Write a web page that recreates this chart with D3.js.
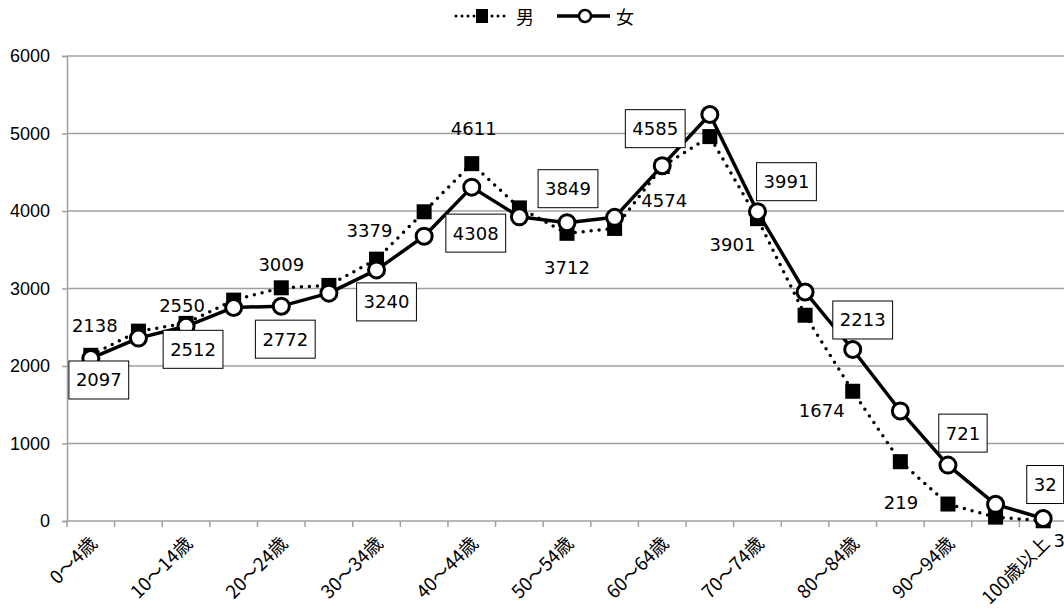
<!DOCTYPE html>
<html>
<head>
<meta charset="utf-8">
<script src="https://cdn.jsdelivr.net/npm/d3@7"></script>
<style>
  html, body { margin: 0; padding: 0; background: #fff; }
  svg { display: block; }
</style>
</head>
<body>
<div id="chart"></div>
<script>
// ---- data ----
const categories = ["0～4歳","5～9歳","10～14歳","15～19歳","20～24歳","25～29歳","30～34歳","35～39歳","40～44歳","45～49歳","50～54歳","55～59歳","60～64歳","65～69歳","70～74歳","75～79歳","80～84歳","85～89歳","90～94歳","95～99歳","100歳以上"];
const male   = [2138, 2450, 2550, 2850, 3009, 3040, 3379, 3990, 4611, 4040, 3712, 3775, 4574, 4960, 3901, 2655, 1674, 765, 219, 50, 3];
const female = [2097, 2360, 2512, 2755, 2772, 2940, 3240, 3675, 4308, 3925, 3849, 3918, 4585, 5245, 3991, 2955, 2213, 1420, 721, 215, 32];
const yTicks = [0, 1000, 2000, 3000, 4000, 5000, 6000];
const seriesNames = ["男", "女"];

// ---- layout (label offsets relative to each point, for labelled categories) ----
const maleLabelOffsets = {0:[4,-30],2:[-4,-18],4:[0,-23],6:[-7,-29],8:[2,-35],10:[0,34],12:[2,34],14:[-25,26],16:[-31,19],18:[-47,-2],20:[16,20]};
const femaleLabelOffsets = {0:[8,21.5],2:[7,23],4:[4,33],6:[10,32],8:[4,46],10:[1,-34],12:[-7,-37],14:[29,-30],16:[10,-29.5],18:[15,-32],20:[2,-34]};

const W = 1064, H = 614;
const mLeft = 67, mRight = 1067, mTop = 56, mBottom = 521;

const svg = d3.select("#chart").append("svg").attr("width", W).attr("height", H);

const x = d3.scaleBand().domain(categories).range([mLeft, mRight]).padding(0);
const y = d3.scaleLinear().domain([0, 6000]).range([mBottom, mTop]);
const cx = d => x(d) + x.bandwidth() / 2;

// gridlines
svg.append("g").selectAll("line").data(yTicks.filter(t => t > 0)).join("line")
  .attr("x1", mLeft).attr("x2", W).attr("y1", d => y(d)).attr("y2", d => y(d))
  .attr("stroke", "#a0a0a0").attr("stroke-width", 1.5);

// y axis
const yAxis = svg.append("g").attr("transform", `translate(${mLeft},0)`)
  .call(d3.axisLeft(y).tickValues(yTicks).tickSize(5).tickPadding(12).tickFormat(d3.format("d")));
yAxis.select(".domain").attr("stroke", "#a0a0a0").attr("stroke-width", 1.5);
yAxis.selectAll(".tick line").attr("stroke", "#a0a0a0").attr("stroke-width", 1.5);
yAxis.selectAll("text").attr("font-family", "'Liberation Sans', Arial, sans-serif").attr("font-size", 18).attr("fill", "#000");

// x axis line and ticks at category boundaries
svg.append("line").attr("x1", mLeft).attr("x2", W).attr("y1", mBottom).attr("y2", mBottom)
  .attr("stroke", "#a0a0a0").attr("stroke-width", 1.5);
const bounds = categories.map(c => x(c)).concat([x(categories[categories.length-1]) + x.bandwidth()]);
svg.append("g").selectAll("line").data(bounds).join("line")
  .attr("x1", d => d).attr("x2", d => d).attr("y1", mBottom).attr("y2", mBottom + 6)
  .attr("stroke", "#a0a0a0").attr("stroke-width", 1.5);

// x labels (every other category)
svg.append("g").selectAll("text").data(categories.filter((c, i) => i % 2 === 0)).join("text")
  .attr("transform", d => `translate(${cx(d) + 3},${mBottom + 19}) rotate(-45)`)
  .attr("text-anchor", "end").attr("dy", "0.35em")
  .attr("font-family", "'Noto Sans CJK JP', sans-serif").attr("font-size", 18.5).attr("fill", "#000")
  .text(d => d);

// series lines
const line = vals => d3.line().x((d, i) => cx(categories[i])).y(d => y(d))(vals);

svg.append("path").attr("d", line(male)).attr("fill", "none").attr("stroke", "#000")
  .attr("stroke-width", 3.5).attr("stroke-dasharray", "0,8").attr("stroke-linecap", "round");
svg.append("g").selectAll("rect").data(male).join("rect")
  .attr("x", (d, i) => cx(categories[i]) - 7.5).attr("y", d => y(d) - 7.5)
  .attr("width", 15).attr("height", 15).attr("fill", "#000");

svg.append("path").attr("d", line(female)).attr("fill", "none").attr("stroke", "#000")
  .attr("stroke-width", 3.5).attr("stroke-linejoin", "round");
svg.append("g").selectAll("circle").data(female).join("circle")
  .attr("cx", (d, i) => cx(categories[i])).attr("cy", d => y(d)).attr("r", 8)
  .attr("fill", "#fff").attr("stroke", "#000").attr("stroke-width", 3);

// data labels
const labelFont = "'DejaVu Sans', Verdana, sans-serif";
const mg = svg.append("g");
male.forEach((v, i) => {
  const o = maleLabelOffsets[i]; if (!o) return;
  mg.append("text").attr("x", cx(categories[i]) + o[0]).attr("y", y(v) + o[1])
    .attr("text-anchor", "middle").attr("dominant-baseline", "central")
    .attr("font-family", labelFont).attr("font-size", 18).attr("fill", "#000").text(v);
});
const fg = svg.append("g");
female.forEach((v, i) => {
  const o = femaleLabelOffsets[i]; if (!o) return;
  const px = cx(categories[i]) + o[0], py = y(v) + o[1];
  const g = fg.append("g");
  const t = g.append("text").attr("x", px).attr("y", py)
    .attr("text-anchor", "middle").attr("dominant-baseline", "central")
    .attr("font-family", labelFont).attr("font-size", 18).attr("fill", "#000").text(v);
  const tw = t.node().getComputedTextLength();
  g.insert("rect", "text").attr("x", px - tw / 2 - 7).attr("y", py - 19)
    .attr("width", tw + 14).attr("height", 38).attr("fill", "#fff").attr("stroke", "#000").attr("stroke-width", 1);
});

// legend
const lg = svg.append("g").attr("font-family", "'Noto Sans CJK JP', sans-serif").attr("font-size", 18);
const ly = 16;
lg.append("line").attr("x1", 456).attr("x2", 507).attr("y1", ly).attr("y2", ly)
  .attr("stroke", "#000").attr("stroke-width", 3).attr("stroke-dasharray", "0,6").attr("stroke-linecap", "round");
lg.append("rect").attr("x", 476).attr("y", ly - 7).attr("width", 12).attr("height", 14).attr("fill", "#000");
lg.append("text").attr("x", 516).attr("y", ly).attr("dominant-baseline", "central").text(seriesNames[0]);
lg.append("line").attr("x1", 557).attr("x2", 610).attr("y1", ly).attr("y2", ly)
  .attr("stroke", "#000").attr("stroke-width", 3.5);
lg.append("circle").attr("cx", 585).attr("cy", ly).attr("r", 6).attr("fill", "#fff").attr("stroke", "#000").attr("stroke-width", 2.5);
lg.append("text").attr("x", 616).attr("y", ly).attr("dominant-baseline", "central").text(seriesNames[1]);
</script>
</body>
</html>
